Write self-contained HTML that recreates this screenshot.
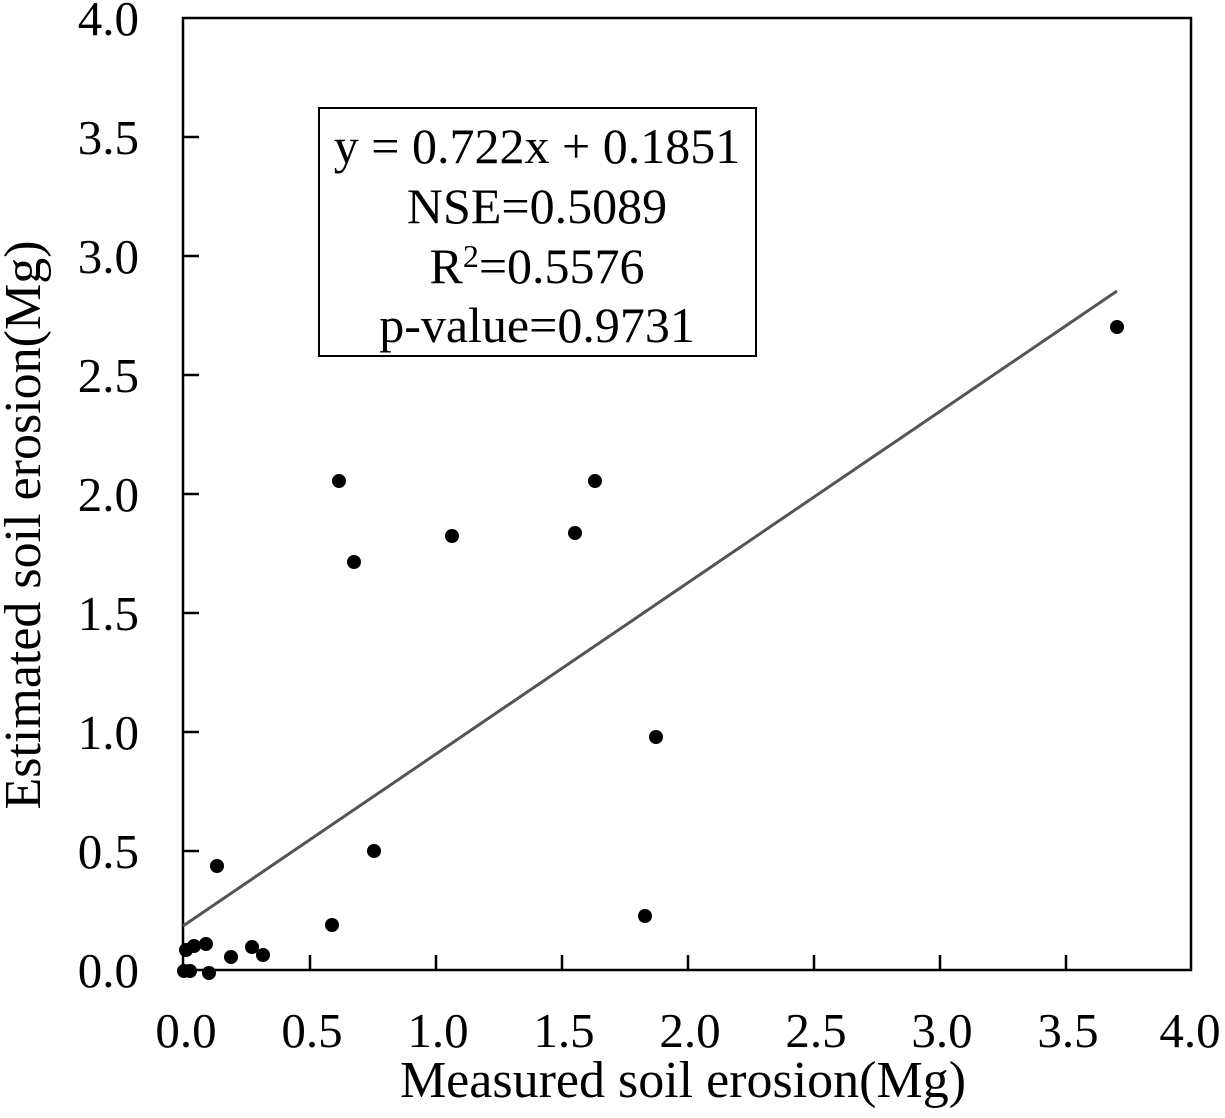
<!DOCTYPE html>
<html><head><meta charset="utf-8"><style>body{margin:0;background:#fff}</style></head><body>
<svg width="1225" height="1113" xmlns="http://www.w3.org/2000/svg" font-family="Liberation Serif, serif">
<rect x="183" y="18" width="1008" height="952" fill="none" stroke="#000" stroke-width="2.5"/>
<g stroke="#000" stroke-width="2.5">
<line x1="310" y1="970" x2="310" y2="955"/><line x1="436" y1="970" x2="436" y2="955"/><line x1="562" y1="970" x2="562" y2="955"/><line x1="688" y1="970" x2="688" y2="955"/><line x1="814" y1="970" x2="814" y2="955"/><line x1="940" y1="970" x2="940" y2="955"/><line x1="1066" y1="970" x2="1066" y2="955"/>
<line x1="183" y1="851" x2="199" y2="851"/><line x1="183" y1="732" x2="199" y2="732"/><line x1="183" y1="613" x2="199" y2="613"/><line x1="183" y1="494" x2="199" y2="494"/><line x1="183" y1="375" x2="199" y2="375"/><line x1="183" y1="256" x2="199" y2="256"/><line x1="183" y1="137" x2="199" y2="137"/>
</g>
<g font-size="49" text-anchor="end">
<text x="139" y="987">0.0</text><text x="139" y="868">0.5</text><text x="139" y="749">1.0</text><text x="139" y="630">1.5</text><text x="139" y="511">2.0</text><text x="139" y="392">2.5</text><text x="139" y="273">3.0</text><text x="139" y="154">3.5</text><text x="139" y="35">4.0</text>
</g>
<g font-size="49" text-anchor="middle">
<text x="186" y="1047">0.0</text><text x="312" y="1047">0.5</text><text x="438" y="1047">1.0</text><text x="564" y="1047">1.5</text><text x="690" y="1047">2.0</text><text x="816" y="1047">2.5</text><text x="942" y="1047">3.0</text><text x="1068" y="1047">3.5</text><text x="1190" y="1047">4.0</text>
</g>
<text x="683" y="1097" font-size="52" text-anchor="middle">Measured soil erosion(Mg)</text>
<text transform="translate(40,525) rotate(-90)" font-size="52" text-anchor="middle">Estimated soil erosion(Mg)</text>
<line x1="183" y1="926" x2="1117" y2="291" stroke="#555" stroke-width="3"/>
<rect x="319" y="108" width="437" height="248" fill="#fff" stroke="#000" stroke-width="2"/>
<g font-size="50" text-anchor="middle">
<text x="537" y="163">y = 0.722x + 0.1851</text>
<text x="537" y="223">NSE=0.5089</text>
<text x="537" y="283">R<tspan font-size="32" dy="-16">2</tspan><tspan dy="16">=0.5576</tspan></text>
<text x="537" y="342">p-value=0.9731</text>
</g>
<g fill="#000">
<circle cx="184" cy="971" r="7"/><circle cx="190" cy="971" r="7"/><circle cx="186" cy="950" r="7"/><circle cx="194" cy="946" r="7"/><circle cx="206" cy="944" r="7"/><circle cx="209" cy="973" r="7"/><circle cx="217" cy="866" r="7"/><circle cx="231" cy="957" r="7"/><circle cx="252" cy="947" r="7"/><circle cx="263" cy="955" r="7"/><circle cx="332" cy="925" r="7"/><circle cx="339" cy="481" r="7"/><circle cx="354" cy="562" r="7"/><circle cx="374" cy="851" r="7"/><circle cx="452" cy="536" r="7"/><circle cx="575" cy="533" r="7"/><circle cx="595" cy="481" r="7"/><circle cx="656" cy="737" r="7"/><circle cx="645" cy="916" r="7"/><circle cx="1117" cy="327" r="7"/>
</g>
</svg>
</body></html>
